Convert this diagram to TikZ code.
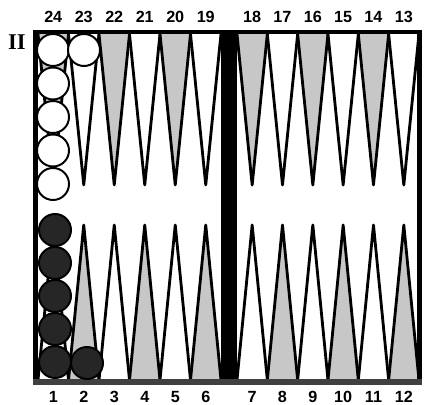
\documentclass[tikz,border=0pt]{standalone}
\usepackage{fontspec}
\setmainfont{Liberation Sans}
\newfontfamily\romfont{Liberation Serif}

\colorlet{dots}{black!22}

\tikzset{
  point/.style={draw=black,line width=2pt,line join=round},
  whitechk/.style={draw=black,line width=1.4pt,fill=white},
  blackchk/.style={draw=black,line width=1.4pt,fill=black!85},
  num/.style={font=\bfseries\fontsize{11.5}{13}\selectfont,inner sep=0pt}
}

\begin{document}
\begin{tikzpicture}[x=0.025cm,y=-0.025cm]

\def\w{30.5}
\def\v{30.33}
\def\r{16}

\useasboundingbox (0,0) rectangle (424,405);

% Points
\foreach \k in {0,...,5}{
  \pgfmathsetmacro\a{38+\w*\k}
  \pgfmathsetmacro\b{237+\v*\k}
  \ifodd\k \def\ct{white}\def\cb{dots}\else \def\ct{dots}\def\cb{white}\fi
  \draw[point,fill=\ct] (\a,34) -- (\a+\w/2,185) -- (\a+\w,34);
  \draw[point,fill=\ct] (\b,34) -- (\b+\v/2,185) -- (\b+\v,34);
  \draw[point,fill=\cb] (\a,380) -- (\a+\w/2,225) -- (\a+\w,380);
  \draw[point,fill=\cb] (\b,380) -- (\b+\v/2,225) -- (\b+\v,380);
}

% Frame and bar
\fill[black] (33,30) rectangle (422,34);
\fill[black] (33,30) rectangle (38,385);
\fill[black] (417,30) rectangle (422,385);
\fill[black] (221,30) rectangle (237,385);
\fill[black!75] (33,379) rectangle (422,385);

% Point numbers
\foreach \k in {0,...,5}{
  \pgfmathtruncatemacro\na{24-\k}
  \pgfmathtruncatemacro\nb{18-\k}
  \pgfmathtruncatemacro\nc{1+\k}
  \pgfmathtruncatemacro\nd{7+\k}
  \node[num] (p\na) at (38+\w*\k+\w/2,17) {\na};
  \node[num] (p\nb) at (237+\v*\k+\v/2,17) {\nb};
  \node[num] (p\nc) at (38+\w*\k+\w/2,397) {\nc};
  \node[num] (p\nd) at (237+\v*\k+\v/2,397) {\nd};
}

% Player
\node[font=\romfont\bfseries\fontsize{16}{17}\selectfont,inner sep=0pt] (player) at (17,42) {II};

% White checkers
\foreach \y in {50,83.5,117,150.5,184}
  \draw[whitechk] (53,\y) circle(\r);
\draw[whitechk] (84,50) circle(\r);

% Black checkers
\foreach \y in {230,263,296,329,362}
  \draw[blackchk] (55,\y) circle(\r);
\draw[blackchk] (87,363) circle(\r);

\end{tikzpicture}
\end{document}
